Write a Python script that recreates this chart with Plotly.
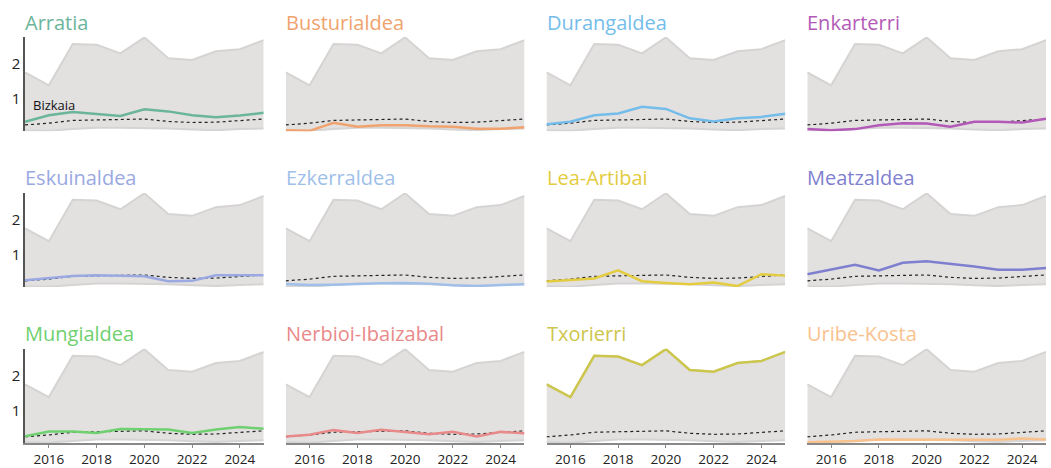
import plotly.graph_objects as go
from plotly.subplots import make_subplots

years = list(range(2015, 2026))

comarcas = ["Arratia", "Busturialdea", "Durangaldea", "Enkarterri",
            "Eskuinaldea", "Ezkerraldea", "Lea-Artibai", "Meatzaldea",
            "Mungialdea", "Nerbioi-Ibaizabal", "Txorierri", "Uribe-Kosta"]

arratia = [0.34, 0.53, 0.62, 0.56, 0.51, 0.70, 0.64, 0.53, 0.47, 0.52, 0.60]
busturialdea = [0.10, 0.08, 0.31, 0.20, 0.24, 0.24, 0.21, 0.20, 0.14, 0.14, 0.18]
durangaldea = [0.27, 0.34, 0.53, 0.58, 0.77, 0.71, 0.44, 0.35, 0.44, 0.48, 0.57]
enkarterri = [0.13, 0.10, 0.13, 0.24, 0.30, 0.29, 0.20, 0.34, 0.34, 0.32, 0.43]
eskuinaldea = [0.27, 0.33, 0.39, 0.41, 0.40, 0.38, 0.24, 0.25, 0.41, 0.40, 0.41]
ezkerraldea = [0.16, 0.13, 0.14, 0.17, 0.18, 0.19, 0.17, 0.12, 0.10, 0.13, 0.15]
lea_artibai = [0.23, 0.28, 0.32, 0.55, 0.24, 0.19, 0.15, 0.20, 0.10, 0.44, 0.40]
meatzaldea = [0.44, 0.57, 0.71, 0.55, 0.77, 0.81, 0.74, 0.66, 0.57, 0.57, 0.62]
mungialdea = [0.26, 0.40, 0.40, 0.36, 0.47, 0.47, 0.46, 0.36, 0.46, 0.53, 0.48]
nerbioi = [0.26, 0.31, 0.44, 0.36, 0.45, 0.39, 0.32, 0.39, 0.26, 0.39, 0.35]
txorierri = [1.76, 1.39, 2.58, 2.56, 2.31, 2.77, 2.17, 2.12, 2.37, 2.43, 2.69]
uribe_kosta = [0.09, 0.10, 0.13, 0.17, 0.17, 0.17, 0.16, 0.17, 0.16, 0.20, 0.17]

bizkaia = [0.25, 0.30, 0.38, 0.39, 0.40, 0.42, 0.35, 0.32, 0.33, 0.37, 0.42]

series = [arratia, busturialdea, durangaldea, enkarterri, eskuinaldea, ezkerraldea,
          lea_artibai, meatzaldea, mungialdea, nerbioi, txorierri, uribe_kosta]

colors = ["#6bb59b", "#f0a36e", "#74bdea", "#b35ab8", "#9aa9e2", "#9fbfe9",
          "#e3cc40", "#7f7fcf", "#6fd06f", "#e98a8a", "#cdc64c", "#f8c28e"]

tick_vals = [2016, 2018, 2020, 2022, 2024]
y_ticks = [1, 2]

band_min = [min(s[i] for s in series) for i in range(len(years))]
band_max = [max(s[i] for s in series) for i in range(len(years))]

fig = make_subplots(rows=3, cols=4, horizontal_spacing=0.0216, vertical_spacing=0.152)

FONT = "Open Sans"

for k, (name, vals, col) in enumerate(zip(comarcas, series, colors)):
    r = k // 4 + 1
    c = k % 4 + 1
    fig.add_trace(go.Scatter(x=years, y=band_min, mode="lines",
                             line=dict(color="#d6d3d3", width=2),
                             showlegend=False, hoverinfo="skip"), row=r, col=c)
    fig.add_trace(go.Scatter(x=years, y=band_max, mode="lines", fill="tonexty",
                             fillcolor="#e3e0e0",
                             line=dict(color="#d6d3d3", width=2),
                             showlegend=False, hoverinfo="skip"), row=r, col=c)
    fig.add_trace(go.Scatter(x=years, y=bizkaia, mode="lines",
                             line=dict(color="#222222", width=1.2, dash="3px,3px"),
                             showlegend=False), row=r, col=c)
    fig.add_trace(go.Scatter(x=years, y=vals, mode="lines",
                             line=dict(color=col, width=2.5),
                             showlegend=False), row=r, col=c)
    fig.add_annotation(text=name, x=0, y=1, xref="x domain" if k == 0 else f"x{k+1} domain",
                       yref="y domain" if k == 0 else f"y{k+1} domain",
                       xanchor="left", yanchor="middle", yshift=15, xshift=-2,
                       showarrow=False, font=dict(family=FONT, size=20, color=col))
    bottom = (r == 3)
    fig.update_xaxes(range=[2015, 2025], tickvals=tick_vals, showticklabels=bottom,
                     ticks="outside" if bottom else "", ticklen=3, tickcolor="#888888",
                     showline=bottom, linecolor="#888888", linewidth=1.5,
                     showgrid=False, zeroline=False, automargin=False,
                     tickfont=dict(family=FONT, size=13.5, color="#222222"),
                     row=r, col=c)
    first = (c == 1)
    fig.update_yaxes(range=[0.07, 2.78], tickvals=y_ticks, showticklabels=first,
                     ticks="", showline=first, linecolor="#555555", linewidth=1.5,
                     showgrid=False, zeroline=False, automargin=False,
                     tickfont=dict(family=FONT, size=15, color="#222222"),
                     row=r, col=c)

fig.add_annotation(text="Bizkaia", x=2015.27, y=0.81, xref="x", yref="y",
                   xanchor="left", yanchor="middle", showarrow=False,
                   font=dict(family=FONT, size=13, color="#111111"))

fig.update_layout(width=1051, height=468, margin=dict(l=25, r=5, t=37, b=25),
                  paper_bgcolor="white", plot_bgcolor="white",
                  font=dict(family=FONT))

fig.write_html("out.html", config={"displayModeBar": False},
               post_script="document.body.style.margin='0';document.body.style.padding='0';")
